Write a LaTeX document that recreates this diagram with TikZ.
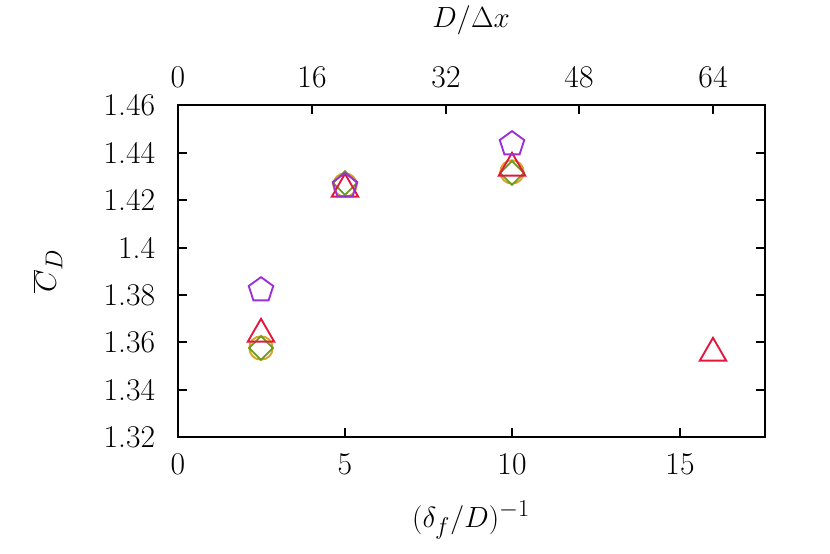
\documentclass[tikz,border=0pt]{standalone}
\usepackage{tikz}
\usetikzlibrary{shapes.geometric}
\definecolor{cpurple}{HTML}{9B30D9}
\definecolor{cred}{HTML}{E3173E}
\definecolor{cgold}{HTML}{D9A521}
\definecolor{colive}{HTML}{6A9A23}
\tikzset{
  lbl/.style={font=\fontsize{27}{32}\selectfont, inner sep=2pt},
  ttl/.style={font=\fontsize{31}{36}\selectfont, inner sep=2pt},
  pent/.style={draw=cpurple, regular polygon, regular polygon sides=5, minimum size=22, inner sep=0pt, line width=1.6pt},
  tri/.style={draw=cred, regular polygon, regular polygon sides=3, minimum size=26, inner sep=0pt, line width=1.6pt},
  circ/.style={draw=cgold, circle, minimum size=20, inner sep=0pt, line width=1.6pt},
  diam/.style={draw=colive, diamond, minimum size=21, inner sep=0pt, line width=1.6pt}
}
\begin{document}
\begin{tikzpicture}[x=0.03cm, y=-0.03cm]
    \useasboundingbox (0,0) rectangle (830,554);
    % frame
    \draw[line width=1.1pt] (178,105) rectangle (765,437);
    % bottom axis
    \foreach \v/\px in {0/178, 5/345, 10/512, 15/680}
        \draw[line width=1.1pt] (\px,437) -- (\px,428) (\px,437) node[lbl, below=12pt] {\v};
    % top axis
    \foreach \v/\px in {0/178, 16/312, 32/446, 48/579, 64/713}
        \draw[line width=1.1pt] (\px,105) -- (\px,114) (\px,105) node[lbl, above=12pt] {\v};
    % left axis
    \foreach \v/\py in {1.32/437, 1.34/390, 1.36/342, 1.38/295, 1.4/248, 1.42/200, 1.44/153, 1.46/105}
        \draw[line width=1.1pt] (178,\py) -- (187,\py) (765,\py) -- (756,\py) (178,\py) node[lbl, left=17pt] {\v};
    % axis titles
    \node[ttl] (xlab) at (471,520) {$(\delta_f/D)^{-1}$};
    \node[ttl] (x2lab) at (471,20) {$D/\Delta x$};
    \node[ttl, rotate=90] (ylab) at (48,271) {$\overline{C}_D$};
    % data
    \node[circ] (c1) at (261,348) {};
    \node[circ] (c2) at (345,185) {};
    \node[circ] (c3) at (512,172) {};
    \node[diam] (d1) at (261,348) {};
    \node[diam] (d2) at (345,183) {};
    \node[diam] (d3) at (512,173) {};
    \node[tri] (t1) at (261,334) {};
    \node[tri] (t2) at (345,189) {};
    \node[tri] (t3) at (512,168) {};
    \node[tri] (t4) at (713,353) {};
    \node[pent] (p1) at (261,290) {};
    \node[pent] (p2) at (345,186) {};
    \node[pent] (p3) at (512,144) {};
\end{tikzpicture}
\end{document}
